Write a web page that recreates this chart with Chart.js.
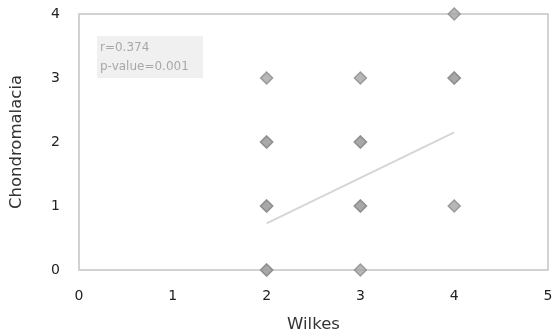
<!DOCTYPE html>
<html>
<head>
<meta charset="utf-8">
<script src="https://cdn.jsdelivr.net/npm/chart.js@4"></script>
<style>
  html, body { margin: 0; padding: 0; background: #fff; }
  #wrap { width: 552px; height: 335px; }
</style>
</head>
<body>
<div id="wrap"><canvas id="chart"></canvas></div>
<script>
// Wilkes grade vs chondromalacia grade (repeated pairs stack darker)
const wilkes = [2, 2, 2, 2, 2, 2, 2, 3, 3, 3, 3, 3, 3, 4, 4, 4, 4];
const chondro = [0, 0, 1, 1, 2, 2, 3, 0, 1, 1, 2, 2, 3, 1, 3, 3, 4];

// fitted line end points
const fitX = [2, 4];
const fitY = [0.73, 2.15];

const xTicks = [0, 1, 2, 3, 4, 5];
const yTicks = [0, 1, 2, 3, 4];
const statsText = ['r=0.374', 'p-value=0.001'];

const points = wilkes.map((x, i) => ({ x: x, y: chondro[i] }));
const fitLine = fitX.map((x, i) => ({ x: x, y: fitY[i] }));

const fontFamily = '"DejaVu Sans", Verdana, sans-serif';

// frame round the plot area plus the stats box
const framePlugin = {
  id: 'frame',
  beforeDatasetsDraw(chart) {
    const { ctx, chartArea: a } = chart;
    ctx.save();
    ctx.strokeStyle = '#c4c4c4';
    ctx.lineWidth = 1.5;
    ctx.strokeRect(a.left, a.top, a.right - a.left, a.bottom - a.top);

    const bx = a.left + 18, by = a.top + 22;
    ctx.fillStyle = '#f0f0f0';
    ctx.fillRect(bx, by, 106, 42);
    ctx.fillStyle = '#a8a8a8';
    ctx.font = '12px ' + fontFamily;
    ctx.textBaseline = 'middle';
    ctx.fillText(statsText[0], bx + 3, by + 12);
    ctx.fillText(statsText[1], bx + 3, by + 31);
    ctx.restore();
  }
};

const chartData = {
  datasets: [
    {
      type: 'line',
      data: fitLine,
      borderColor: '#d6d6d6',
      borderWidth: 2,
      pointRadius: 0,
      fill: false,
      order: 2,
    },
    {
      type: 'scatter',
      data: points,
      pointStyle: 'rectRot',
      pointRadius: 6,
      pointBackgroundColor: 'rgba(165,165,165,0.8)',
      pointBorderColor: 'rgba(140,140,140,0.8)',
      pointBorderWidth: 1.5,
      clip: false,
      order: 1,
    },
  ],
};

const chartConfig = {
  type: 'scatter',
  data: chartData,
  options: {
    responsive: true,
    maintainAspectRatio: false,
    animation: false,
    layout: { autoPadding: false, padding: { top: 14, right: 4, left: 0, bottom: 0 } },
    plugins: { legend: { display: false }, tooltip: { enabled: false } },
    scales: {
      x: {
        type: 'linear',
        min: 0,
        max: 5,
        afterBuildTicks: (s) => { s.ticks = xTicks.map(v => ({ value: v })); },
        afterFit: (s) => {
          s.height = 65;
          s.paddingLeft = 0;
          s.paddingRight = 0;
        },
        grid: { display: false, drawTicks: false },
        border: { display: false },
        ticks: { color: '#222', padding: 18, font: { family: fontFamily, size: 14 } },
        title: {
          display: true,
          text: 'Wilkes',
          color: '#333',
          font: { family: fontFamily, size: 16.5 },
          padding: { top: 0, bottom: 0 },
        },
      },
      y: {
        type: 'linear',
        min: 0,
        max: 4,
        afterBuildTicks: (s) => { s.ticks = yTicks.map(v => ({ value: v })); },
        afterFit: (s) => {
          s.width = 79;
          s.paddingTop = 0;
          s.paddingBottom = 0;
        },
        grid: { display: false, drawTicks: false },
        border: { display: false },
        ticks: { color: '#222', padding: 19, font: { family: fontFamily, size: 14 } },
        title: {
          display: true,
          text: 'Chondromalacia',
          color: '#333',
          font: { family: fontFamily, size: 16.5 },
          padding: { top: 7, bottom: 0 },
        },
      },
    },
  },
  plugins: [framePlugin],
};

const myChart = new Chart(document.getElementById('chart'), chartConfig);
</script>
</body>
</html>
